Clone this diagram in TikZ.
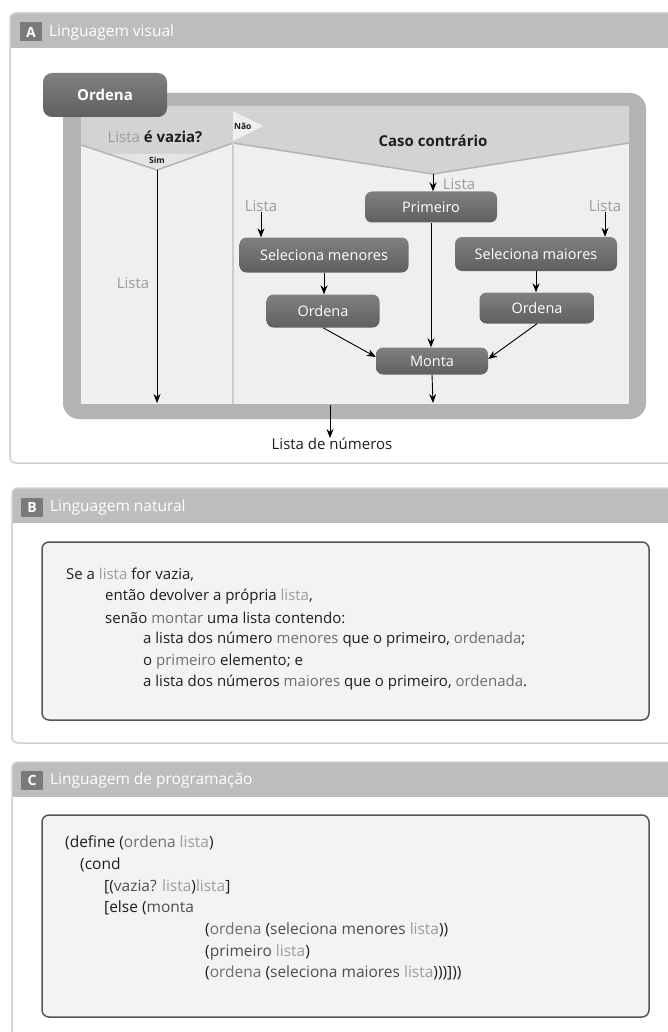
\documentclass[tikz,border=0pt]{standalone}
\usepackage{fontspec}
\setmainfont{Open Sans}
\usetikzlibrary{arrows.meta,calc}
\definecolor{hdr}{HTML}{BDBDBD}
\definecolor{tagc}{HTML}{7A7A7A}
\definecolor{panelc}{HTML}{CFCFCF}
\definecolor{framec}{HTML}{B3B3B3}
\definecolor{bodyc}{HTML}{EFEFEF}
\definecolor{headc}{HTML}{D3D3D3}
\definecolor{nodetop}{HTML}{808080}
\definecolor{nodebot}{HTML}{5F5F5F}
\definecolor{lgray}{HTML}{9C9C9C}
\definecolor{mgray}{HTML}{6E6E6E}
\definecolor{dgray}{HTML}{4E4E4E}
\definecolor{ink}{HTML}{1E1E1E}
\definecolor{boxc}{HTML}{F3F3F3}
\definecolor{boxline}{HTML}{555555}
\newcommand{\cl}[1]{\textcolor{lgray}{#1}}
\newcommand{\cm}[1]{\textcolor{mgray}{#1}}
\newcommand{\cd}[1]{\textcolor{dgray}{#1}}
\begin{document}
\begin{tikzpicture}[x=1pt,y=-1pt,
  proc/.style={rounded corners=7pt, top color=nodetop, bottom color=nodebot, draw=none,
     text=white, font=\fontsize{14.5}{16}\selectfont, inner sep=0pt},
  arr/.style={draw=black, line width=0.9pt, -{Stealth[length=9pt,width=7pt]}},
  lbl/.style={text=lgray, font=\fontsize{15}{17}\selectfont, inner sep=0pt},
  panel/.style={draw=panelc, line width=1.5pt, rounded corners=6pt},
  tag/.style={fill=tagc, text=white, font=\fontsize{14}{16}\selectfont\bfseries, minimum width=22pt, minimum height=19pt, inner sep=0pt},
  ttl/.style={text=white, font=\fontsize{15.5}{18}\selectfont, anchor=west, inner sep=0pt},
  txt/.style={text=ink, font=\fontsize{15}{17}\selectfont, anchor=west, inner sep=0pt},
  ctxt/.style={text=ink, font=\fontsize{15.5}{17}\selectfont, anchor=west, inner sep=0pt},
  cbox/.style={draw=boxline, line width=1.5pt, fill=boxc, rounded corners=7pt}
]
\useasboundingbox (0,0) rectangle (667,1032);
\fill[white] (0,0) rectangle (667,1032);

% ---------------- Panel A ----------------
\begin{scope}
\clip[rounded corners=6pt] (10,13) rectangle (700,463);
\fill[hdr] (10,13) rectangle (700,48);
\end{scope}
\draw[panel] (10,13) rectangle (700,463);
\node[tag] (tagA) at (31,32) {A};
\node[ttl] (ttlA) at (49,32) {Linguagem visual};

% big frame
\fill[framec, rounded corners=16pt] (63,93) rectangle (646,419);
\fill[bodyc] (81,106) rectangle (629,404);
% decision headers
\fill[headc] (81,106) -- (233,106) -- (233,143) -- (157,170) -- (81,145) -- cycle;
\fill[headc] (233,106) -- (629,106) -- (629,143) -- (433,174) -- (233,143) -- cycle;
\fill[bodyc!60!headc] (108,154) -- (203,154) -- (157,170) -- cycle;
\draw[framec, line width=1.5pt] (81,145) -- (157,170) -- (233,143) -- (433,174) -- (629,143);
\draw[headc!80!framec, line width=2pt] (233,140) -- (233,404);
\fill[bodyc] (233,111) -- (263,126) -- (233,141) -- cycle;
\coordinate (vL) at (157,170);
\coordinate (vR) at (433,174);

% tab
\node[proc, font=\fontsize{15}{17}\selectfont\bfseries, minimum width=124pt, minimum height=44pt, rounded corners=9pt] (tab) at (105,95) {Ordena};

% header texts
\node[font=\fontsize{15}{17}\selectfont, inner sep=0pt] (q) at (155,137) {\textcolor{lgray}{Lista} \textcolor{ink}{\bfseries é vazia?}};
\node[font=\fontsize{8.5}{9}\selectfont\bfseries, text=ink, anchor=west, inner sep=0pt] (nao) at (234,126) {Não};
\node[font=\fontsize{8.5}{9}\selectfont\bfseries, text=ink, inner sep=0pt] (sim) at (157,160) {Sim};
\node[font=\fontsize{15}{17}\selectfont\bfseries, text=ink, inner sep=0pt] (caso) at (433,141) {Caso contrário};

% process nodes
\node[proc, minimum width=132pt, minimum height=31pt] (prim) at (431,207) {Primeiro};
\node[proc, minimum width=169pt, minimum height=35pt] (selmen) at (324,255) {Seleciona menores};
\node[proc, minimum width=162pt, minimum height=34pt] (selmai) at (536,254) {Seleciona maiores};
\node[proc, minimum width=113pt, minimum height=33pt] (ordL) at (323,311) {Ordena};
\node[proc, minimum width=115pt, minimum height=31pt] (ordR) at (537,308) {Ordena};
\node[proc, minimum width=112pt, minimum height=27pt] (monta) at (432,361) {Monta};

% labels
\node[lbl] (lP) at (459,184) {Lista};
\node[lbl] (lm) at (261,206) {Lista};
\node[lbl] (lM) at (605,206) {Lista};
\node[lbl] (lL) at (133,283) {Lista};

% connectors
\coordinate (endL) at (157,403);
\coordinate (endM) at (433,403);
\coordinate (outS) at (330,405);
\draw[arr] (vL) -- (endL);
\draw[arr] (vR) -- (vR |- prim.north);
\draw[arr] (lm.south) -- (lm.south |- selmen.north);
\draw[arr] (lM.south) -- (lM.south |- selmai.north);
\draw[arr] (selmen.south) -- (selmen.south |- ordL.north);
\draw[arr] (selmai.south) -- (selmai.south |- ordR.north);
\draw[arr] (prim.south) -- (prim.south |- monta.north);
\draw[arr] (ordL.south) -- ($(monta.west)+(0,-4)$);
\draw[arr] (ordR.south) -- ($(monta.east)+(0,-2)$);
\draw[arr] (monta.south) -- (endM);
\node[font=\fontsize{15}{17}\selectfont, text=ink, inner sep=0pt] (out) at (332,444) {Lista de números};
\draw[arr] (outS) -- (outS |- out.north);

% ---------------- Panel B ----------------
\begin{scope}
\clip[rounded corners=6pt] (12,488) rectangle (700,743);
\fill[hdr] (12,488) rectangle (700,523);
\end{scope}
\draw[panel] (12,488) rectangle (700,743);
\node[tag] (tagB) at (32,507) {B};
\node[ttl] (ttlB) at (50,507) {Linguagem natural};
\node[cbox, minimum width=607pt, minimum height=178pt] (boxB) at (345.5,631) {};
\node[txt] (b1) at (66,575) {Se a \cl{lista} for vazia,};
\node[txt] (b2) at (105,597) {então devolver a própria \cl{lista},};
\node[txt] (b3) at (105,618) {senão \cm{montar} uma lista contendo:};
\node[txt] (b4) at (143,640) {a lista dos número \cm{menores} que o primeiro, \cm{ordenada};};
\node[txt] (b5) at (143,662) {o \cm{primeiro} elemento; e};
\node[txt] (b6) at (143,683) {a lista dos números \cm{maiores} que o primeiro, \cm{ordenada}.};

% ---------------- Panel C ----------------
\begin{scope}
\clip[rounded corners=6pt] (12,762) rectangle (700,1060);
\fill[hdr] (12,762) rectangle (700,797);
\end{scope}
\draw[panel] (12,762) rectangle (700,1060);
\node[tag] (tagC) at (32,780) {C};
\node[ttl] (ttlC) at (50,780) {Linguagem de programação};
\node[cbox, minimum width=607pt, minimum height=202pt] (boxC) at (345.5,916) {};
\node[ctxt] (c1) at (65,843) {(define (\cm{ordena} \cl{lista})};
\node[ctxt] (c2) at (80,865) {(cond};
\node[ctxt] (c3) at (104,887) {[(\cd{vazia?} \cl{lista})\cl{lista}]};
\node[ctxt] (c4) at (104,908) {[else (\cd{monta}};
\node[ctxt] (c5) at (205,930) {(\cm{ordena} (\cd{seleciona menores} \cl{lista}))};
\node[ctxt] (c6) at (205,952) {(\cd{primeiro} \cl{lista})};
\node[ctxt] (c7) at (205,973) {(\cm{ordena} (\cd{seleciona maiores} \cl{lista})))]))};
\end{tikzpicture}
\end{document}
